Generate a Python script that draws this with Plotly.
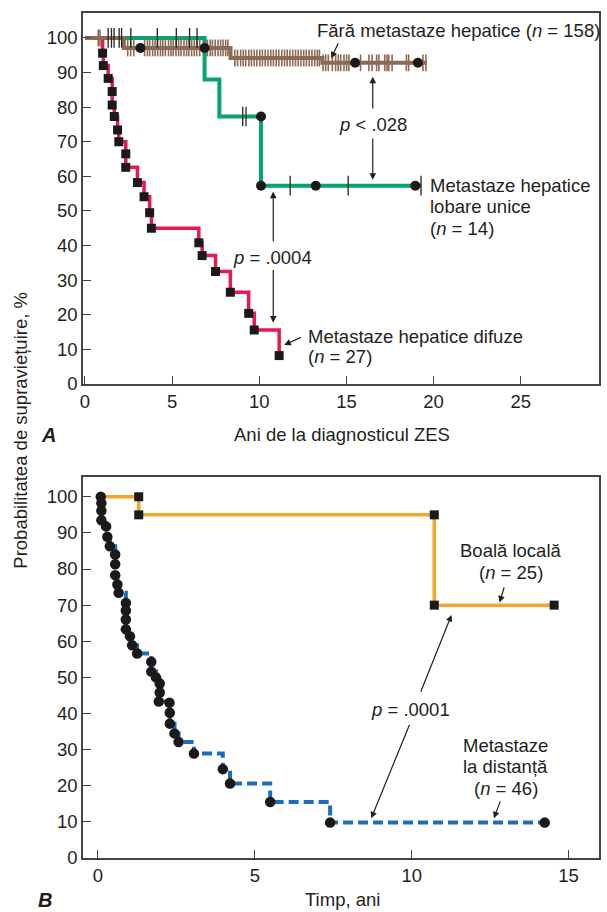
import plotly.graph_objects as go

# ---------------- Panel A data ----------------
# No liver metastases (n = 158)
nolm_t = [0, 2.23, 8.35, 13.62, 19.6]
nolm_s = [100, 97.1, 94.2, 92.8, 92.8]
nolm_dead_t = [3.18, 6.86, 15.5, 19.1]
nolm_dead_s = [97.1, 97.1, 92.8, 92.8]
nolm_cens_t = [0.76, 0.86,
               2.45, 2.62, 2.8, 3.42, 3.58, 3.71, 3.88, 4.02, 4.17, 4.33, 4.46, 4.61,
               4.79, 4.93, 5.06, 5.22, 5.37, 5.51, 5.68, 5.83, 5.96, 6.12, 6.27, 6.41,
               6.58, 7.02, 7.18, 7.31, 7.47, 7.63, 7.78, 7.92, 8.07, 8.2,
               8.6, 8.75, 8.93, 9.08, 9.22, 9.4, 9.55, 9.71, 9.86, 10.03, 10.18, 10.34,
               10.5, 10.66, 10.81, 10.97, 11.12, 11.29, 11.45, 11.6, 11.76, 11.92, 12.08,
               12.23, 12.39, 12.55, 12.7, 12.86, 13.02, 13.18, 13.33, 13.45,
               13.66, 13.81, 13.96, 14.19, 14.38, 14.53, 14.67, 14.86, 15.01, 15.14,
               15.81, 16.29, 16.47, 16.73, 16.86, 17.2, 17.33, 17.43, 17.62, 18.44,
               18.57, 19.39, 19.56]

# Single lobar liver metastases (n = 14)
lobar_t = [0, 6.86, 7.71, 10.1, 19.3]
lobar_s = [100, 88.0, 77.3, 57.3, 57.3]
lobar_dead_t = [10.1, 10.1, 13.24, 18.95]
lobar_dead_s = [77.3, 57.3, 57.3, 57.3]
lobar_cens_t = [1.33, 1.52, 1.67, 1.96, 2.1, 2.63, 4.15, 5.24, 6.0, 6.43,
                9.05, 9.24, 11.77, 15.1, 19.28]

# Diffuse liver metastases (n = 27)
diff_t = [0, 1.01, 1.05, 1.33, 1.56, 1.56, 1.68, 1.87, 1.94, 2.34, 2.34, 3.01, 3.39,
          3.71, 3.81, 6.53, 6.72, 7.49, 8.34, 9.39, 9.71, 11.14]
diff_s = [100, 95.6, 92.0, 88.3, 84.5, 80.6, 77.3, 73.4, 70.0, 66.5, 62.6, 58.2, 54.1,
          49.5, 45.0, 40.8, 37.1, 32.5, 26.5, 20.4, 15.6, 8.2]

# ---------------- Panel B data ----------------
# Local disease (n = 25)
local_t = [0, 1.3, 10.72, 14.54]
local_s = [100, 95.0, 70.0, 70.0]
local_mark_t = [1.3, 1.3, 10.72, 10.72, 14.54]
local_mark_s = [100, 95.0, 95.0, 70.0, 70.0]

# Distant metastases (n = 46)
dist_t = [0.09, 0.11, 0.11, 0.11, 0.26, 0.30, 0.38, 0.55, 0.55, 0.55, 0.62, 0.66,
          0.89, 0.89, 0.89, 0.89, 1.02, 1.09, 1.25, 1.70, 1.70, 1.85, 1.97, 1.97,
          1.94, 2.28, 2.29, 2.29, 2.44, 2.57, 3.06, 3.98, 4.21, 5.49, 7.40, 14.24]
dist_s = [100, 98.2, 96.1, 93.5, 91.8, 88.9, 86.3, 84.0, 81.3, 78.3, 75.7, 73.4,
          70.6, 68.5, 66.0, 63.3, 61.4, 58.9, 56.6, 54.3, 51.6, 50.0, 48.3, 45.8,
          43.3, 43.0, 40.2, 37.2, 34.5, 32.1, 28.9, 24.6, 20.6, 15.5, 9.8, 9.8]

yticks = [0, 10, 20, 30, 40, 50, 60, 70, 80, 90, 100]
xticks_a = [0, 5, 10, 15, 20, 25]
xticks_b = [0, 5, 10, 15]

BROWN = "#8d6a55"
GREEN = "#07a46c"
RED = "#e8194f"
ORANGE = "#f7a42b"
BLUE = "#1f6db8"
INK = "#231f20"
FONT = "Liberation Sans, Arial, sans-serif"
FS = 18.5


def km_at(t, times, surv):
    v = surv[0]
    for ti, si in zip(times, surv):
        if ti <= t:
            v = si
    return v


fig = go.Figure()

# Panel A lines
fig.add_trace(go.Scatter(x=diff_t, y=diff_s, mode="lines", line=dict(color=RED, width=3.5, shape="hv"),
                         xaxis="x", yaxis="y", showlegend=False))
fig.add_trace(go.Scatter(x=lobar_t, y=lobar_s, mode="lines", line=dict(color=GREEN, width=4, shape="hv"),
                         xaxis="x", yaxis="y", showlegend=False))
fig.add_trace(go.Scatter(x=nolm_t, y=nolm_s, mode="lines", line=dict(color=BROWN, width=4, shape="hv"),
                         xaxis="x", yaxis="y", showlegend=False))
# censor ticks
fig.add_trace(go.Scatter(x=nolm_cens_t, y=[km_at(t, nolm_t, nolm_s) for t in nolm_cens_t], mode="markers",
                         marker=dict(symbol="line-ns", size=12, line=dict(color=BROWN, width=1.6)),
                         xaxis="x", yaxis="y", showlegend=False))
fig.add_trace(go.Scatter(x=lobar_cens_t, y=[km_at(t, lobar_t, lobar_s) for t in lobar_cens_t], mode="markers",
                         marker=dict(symbol="line-ns", size=14, line=dict(color="#222", width=1.3)),
                         xaxis="x", yaxis="y", showlegend=False))
# death markers
fig.add_trace(go.Scatter(x=diff_t[1:], y=diff_s[1:], mode="markers",
                         marker=dict(symbol="square", size=9, color="#1a1a1a"),
                         xaxis="x", yaxis="y", showlegend=False))
fig.add_trace(go.Scatter(x=nolm_dead_t, y=nolm_dead_s, mode="markers",
                         marker=dict(symbol="circle", size=10, color="#1a1a1a"),
                         xaxis="x", yaxis="y", showlegend=False))
fig.add_trace(go.Scatter(x=lobar_dead_t, y=lobar_dead_s, mode="markers",
                         marker=dict(symbol="circle", size=10, color="#1a1a1a"),
                         xaxis="x", yaxis="y", showlegend=False))

# Panel B lines
fig.add_trace(go.Scatter(x=local_t, y=local_s, mode="lines", line=dict(color=ORANGE, width=3.5, shape="hv"),
                         xaxis="x2", yaxis="y2", showlegend=False))
fig.add_trace(go.Scatter(x=dist_t, y=dist_s, mode="lines",
                         line=dict(color=BLUE, width=4, shape="hv", dash="10px,5px"),
                         xaxis="x2", yaxis="y2", showlegend=False))
fig.add_trace(go.Scatter(x=local_mark_t, y=local_mark_s, mode="markers",
                         marker=dict(symbol="square", size=9, color="#1a1a1a"),
                         xaxis="x2", yaxis="y2", showlegend=False))
fig.add_trace(go.Scatter(x=dist_t, y=dist_s, mode="markers",
                         marker=dict(symbol="circle", size=10.5, color="#1a1a1a"),
                         xaxis="x2", yaxis="y2", showlegend=False))

axis_common = dict(showline=True, linecolor="#444", linewidth=1.5, mirror=True, ticks="inside",
                   ticklen=8, tickwidth=1.3, tickcolor="#444", showgrid=False, zeroline=False,
                   tickfont=dict(family=FONT, size=FS, color=INK))

fig.update_layout(
    width=607, height=912,
    margin=dict(l=83, r=6, t=13, b=54),
    paper_bgcolor="white", plot_bgcolor="white",
    font=dict(family=FONT, size=FS, color=INK),
    xaxis=dict(domain=[0, 1], anchor="y", range=[-0.114, 29.49], tickvals=xticks_a, **axis_common),
    yaxis=dict(domain=[0.561, 1], anchor="x", range=[0, 107.2], tickvals=yticks, **axis_common),
    xaxis2=dict(domain=[0, 1], anchor="y2", range=[-0.476, 15.97], tickvals=xticks_b, **axis_common),
    yaxis2=dict(domain=[0, 0.451], anchor="x2", range=[0, 105.5], tickvals=yticks, **axis_common),
)

ann = []


def txt(text, x, y, xref, yref, xanchor="left", yanchor="middle", size=FS, **kw):
    ann.append(dict(text=text, x=x, y=y, xref=xref, yref=yref, xanchor=xanchor, yanchor=yanchor,
                    showarrow=False, font=dict(family=FONT, size=size, color=INK), **kw))


def arrow(x, y, ax, ay, xr, yr):
    ann.append(dict(text="", x=x, y=y, ax=ax, ay=ay, xref=xr, yref=yr, axref=xr, ayref=yr,
                    showarrow=True, arrowhead=2, arrowsize=1.1, arrowwidth=1.2, arrowcolor=INK,
                    standoff=0, startstandoff=0))


# Panel A annotations
txt("Fără metastaze hepatice (<i>n</i> = 158)", 13.2, 102.0, "x", "y")
arrow(14.13, 94.1, 14.57, 98.9, "x", "y")
txt("<i>p</i> < .028", 16.51, 75.06, "x", "y", xanchor="center")
arrow(16.51, 88.8, 16.51, 79.2, "x", "y")
arrow(16.51, 59.0, 16.51, 71.4, "x", "y")
txt("Metastaze hepatice", 19.66, 57.3, "x", "y")
txt("lobare unice", 19.66, 51.2, "x", "y")
txt("(<i>n</i> = 14)", 19.66, 44.8, "x", "y")
txt("<i>p</i> = .0004", 10.76, 36.5, "x", "y", xanchor="center")
arrow(10.8, 55.6, 10.8, 40.8, "x", "y")
arrow(10.8, 17.7, 10.8, 33.4, "x", "y")
txt("Metastaze hepatice difuze", 12.69, 13.7, "x", "y")
txt("(<i>n</i> = 27)", 12.69, 7.9, "x", "y")
arrow(11.43, 11.27, 12.47, 13.67, "x", "y")

# Panel B annotations
txt("Boală locală", 13.16, 85.0, "x2", "y2", xanchor="center")
txt("(<i>n</i> = 25)", 13.16, 78.9, "x2", "y2", xanchor="center")
arrow(12.80, 70.7, 12.96, 75.3, "x2", "y2")
txt("<i>p</i> = .0001", 9.95, 41.0, "x2", "y2", xanchor="center")
arrow(11.27, 67.3, 10.27, 45.6, "x2", "y2")
arrow(8.71, 11.0, 9.95, 37.3, "x2", "y2")
txt("Metastaze", 13.0, 31.1, "x2", "y2", xanchor="center")
txt("la distanță", 13.0, 25.3, "x2", "y2", xanchor="center")
txt("(<i>n</i> = 46)", 13.0, 19.3, "x2", "y2", xanchor="center")
arrow(12.62, 11.0, 12.84, 16.1, "x2", "y2")

# Axis titles and panel letters
txt("Ani de la diagnosticul ZES", 0.502, 0.5006, "paper", "paper", xanchor="center")
txt("Timp, ani", 0.502, -0.0497, "paper", "paper", xanchor="center")
txt("Probabilitatea de supraviețuire, %", -0.1216, 0.506, "paper", "paper", xanchor="center",
    textangle=-90)
txt("<b><i>A</i></b>", -0.0676, 0.5006, "paper", "paper", xanchor="center", size=20)
txt("<b><i>B</i></b>", -0.0734, -0.0497, "paper", "paper", xanchor="center", size=20)

fig.update_layout(annotations=ann)
fig.write_html("out.html", config={"displayModeBar": False},
               post_script="document.body.style.margin='0';document.body.style.overflow='hidden';")
